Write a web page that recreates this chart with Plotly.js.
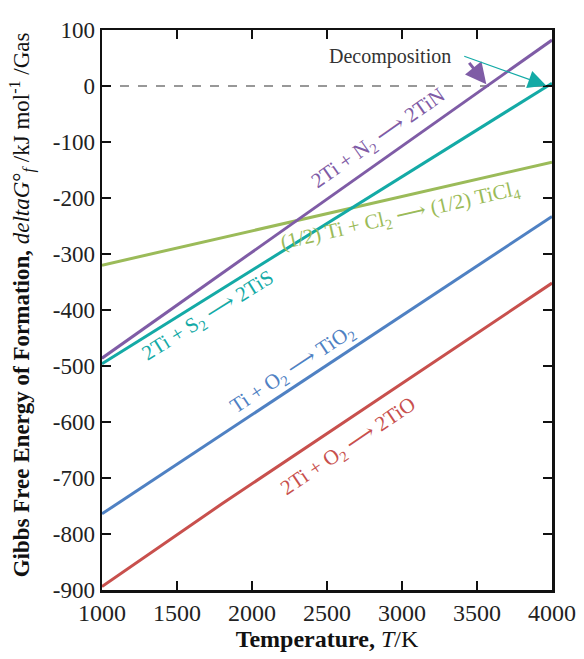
<!DOCTYPE html>
<html>
<head>
<meta charset="utf-8">
<script src="https://cdn.plot.ly/plotly-3.0.1.min.js"></script>
<style>html,body{margin:0;padding:0;background:#fff;}#chart{width:584px;height:659px;}</style>
</head>
<body>
<div id="chart"></div>
<script>
// Temperature (K) sample points for each reaction
const tempTiN = [1000, 4000];
const dgTiN = [-486, 82];
const tempTiS = [1000, 4000];
const dgTiS = [-496, 5];
const tempTiCl4 = [1000, 4000];
const dgTiCl4 = [-320, -136];
const tempTiO2 = [1000, 4000];
const dgTiO2 = [-764, -233];
const tempTiO = [1000, 1800, 4000];
const dgTiO = [-894, -746, -352];

const xTicks = [1000, 1500, 2000, 2500, 3000, 3500, 4000];
const yTicks = [100, 0, -100, -200, -300, -400, -500, -600, -700, -800, -900];

const FONT = '"Liberation Serif", "DejaVu Serif", serif';
const cPurple = '#7f5ca6', cTeal = '#14aaa6', cGreen = '#9bbb59', cBlue = '#4f81c3', cRed = '#c8504d';

function line(x, y, color, name) {
  return {x: x, y: y, type: 'scatter', mode: 'lines', name: name,
          line: {color: color, width: 3}, hoverinfo: 'skip'};
}

const data = [
  line(tempTiCl4, dgTiCl4, cGreen, 'TiCl4'),
  line(tempTiO, dgTiO, cRed, 'TiO'),
  line(tempTiO2, dgTiO2, cBlue, 'TiO2'),
  line(tempTiS, dgTiS, cTeal, 'TiS'),
  line(tempTiN, dgTiN, cPurple, 'TiN')
];

function label(text, x, y, angle, color) {
  return {text: text, x: x, y: y, xref: 'x', yref: 'y', showarrow: false,
          textangle: angle, font: {family: FONT, size: 21, color: color}};
}

const layout = {
  width: 584, height: 659,
  margin: {l: 102, r: 32, t: 30, b: 69},
  paper_bgcolor: '#fff', plot_bgcolor: '#fff',
  showlegend: false,
  font: {family: FONT, color: '#222'},
  xaxis: {
    range: [1000, 4000], tickvals: xTicks, ticktext: xTicks.map(String),
    ticks: 'inside', ticklen: 9, tickwidth: 2, tickcolor: '#111',
    showline: true, linecolor: '#111', linewidth: 2.5, mirror: 'ticks',
    showgrid: false, zeroline: false,
    tickfont: {family: FONT, size: 24, color: '#222'},
    title: {text: '<b>Temperature,</b> <i>T</i>/K', font: {family: FONT, size: 24, color: '#111'}, standoff: 4}
  },
  yaxis: {
    range: [-900, 100], tickvals: yTicks, ticktext: yTicks.map(String),
    ticks: 'inside', ticklen: 9, tickwidth: 2, tickcolor: '#111',
    showline: true, linecolor: '#111', linewidth: 2.5, mirror: 'ticks',
    showgrid: false, zeroline: false,
    tickfont: {family: FONT, size: 23, color: '#222'}
  },
  shapes: [
    {type: 'line', xref: 'paper', yref: 'y', x0: 0, x1: 1, y0: 0, y1: 0,
     line: {color: '#333', width: 1.2, dash: 'dash'}, layer: 'below'}
  ],
  annotations: [
    {text: '<b>Gibbs Free Energy of Formation,</b> <i>deltaG</i>°<sub><i>f</i></sub> /kJ mol<sup>-1</sup> /Gas',
     xref: 'paper', yref: 'paper', x: -0.178, y: 0.51, xanchor: 'center', yanchor: 'middle',
     textangle: -90, showarrow: false, font: {family: FONT, size: 23, color: '#111'}},
    label('2Ti + N<sub>2</sub> ⟶ 2TiN', 2840, -95, -35, cPurple),
    label('2Ti + S<sub>2</sub> ⟶ 2TiS', 1707, -411, -32, cTeal),
    label('(1/2) Ti + Cl<sub>2</sub> ⟶ (1/2) TiCl<sub>4</sub>', 2990, -233, -13, cGreen),
    label('Ti + O<sub>2</sub> ⟶ TiO<sub>2</sub>', 2273, -506, -33.5, cBlue),
    label('2Ti + O<sub>2</sub> ⟶ 2TiO', 2640, -645, -34, cRed),
    {text: 'Decomposition', x: 2917, y: 53, xref: 'x', yref: 'y', showarrow: false,
     font: {family: FONT, size: 20, color: '#333'}},
    {text: '', x: 3562, y: 3, ax: 3440, ay: 44, xref: 'x', yref: 'y', axref: 'x', ayref: 'y',
     showarrow: true, arrowhead: 2, arrowsize: 1.4, arrowwidth: 3, arrowcolor: cPurple},
    {text: '', x: 3961, y: 1, ax: 3405, ay: 54, xref: 'x', yref: 'y', axref: 'x', ayref: 'y',
     showarrow: true, arrowhead: 2, arrowsize: 3, arrowwidth: 1.2, arrowcolor: cTeal}
  ]
};

Plotly.newPlot('chart', data, layout, {displayModeBar: false, staticPlot: true});
</script>
</body>
</html>
